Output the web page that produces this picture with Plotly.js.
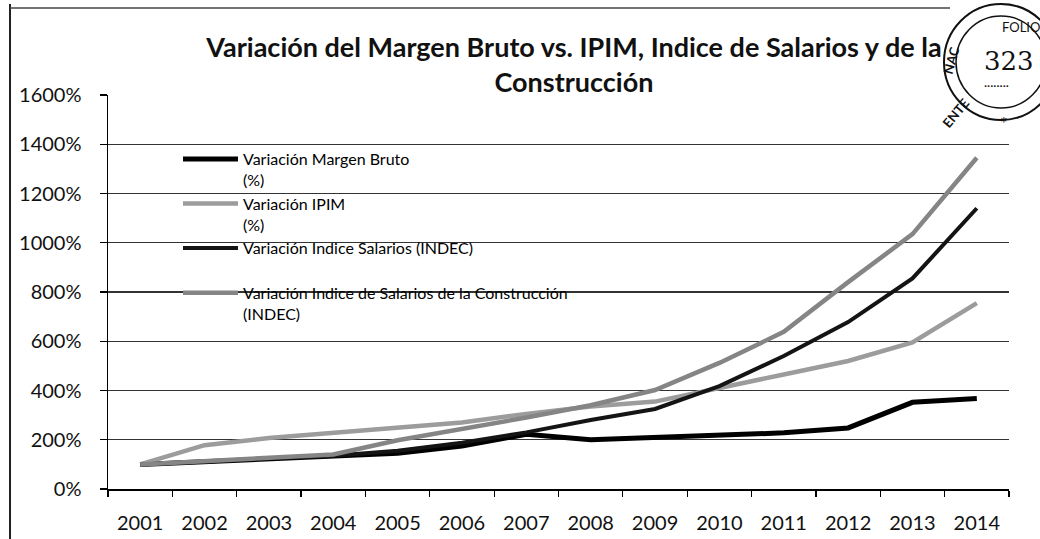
<!DOCTYPE html>
<html>
<head>
<meta charset="utf-8">
<script src="https://cdn.plot.ly/plotly-3.0.1.min.js"></script>
<style>html,body{margin:0;padding:0;background:#fff;}#chart{width:1040px;height:539px;}</style>
</head>
<body>
<div id="chart"></div>
<script>
const years = ['2001','2002','2003','2004','2005','2006','2007','2008','2009','2010','2011','2012','2013','2014'];
const margenBruto = [100, 110, 122, 132, 145, 175, 222, 200, 208, 220, 228, 248, 352, 368];
const ipim = [100, 178, 207, 228, 245, 270, 305, 335, 355, 412, 465, 520, 595, 755];
const indiceSalarios = [100, 112, 125, 135, 155, 188, 230, 280, 325, 418, 540, 678, 855, 1140];
const salariosConstruccion = [100, 112, 125, 140, 198, 242, 290, 340, 402, 512, 638, 840, 1035, 1345];
const seriesNames = [
  'Variación Margen Bruto<br>(%)',
  'Variación IPIM<br>(%)',
  'Variación Indice Salarios (INDEC)<br> ',
  'Variación Indice de Salarios de la Construcción<br>(INDEC)'
];
const titleText = 'Variación del Margen Bruto vs. IPIM, Indice de Salarios y de la<br>Construcción';

const FONT = 'Lato, "Open Sans", sans-serif';

const traces = [
  {x: years, y: margenBruto, name: seriesNames[0], line: {color: '#000000', width: 5}},
  {x: years, y: ipim, name: seriesNames[1], line: {color: '#9c9c9c', width: 4.5}},
  {x: years, y: indiceSalarios, name: seriesNames[2], line: {color: '#141414', width: 4}},
  {x: years, y: salariosConstruccion, name: seriesNames[3], line: {color: '#858585', width: 4.5}}
].map((t, i) => Object.assign({type: 'scatter', mode: 'lines', legendgroup: 'g' + i, hoverinfo: 'skip'}, t));

// paper coords helpers for decorative scan elements (plot area 108..1009 x, 95..489 y)
const px = v => (v - 108) / 901;
const py = v => (489 - v) / 394;

const layout = {
  width: 1040, height: 539,
  margin: {l: 108, r: 31, t: 95, b: 50},
  paper_bgcolor: '#ffffff', plot_bgcolor: '#ffffff',
  font: {family: FONT, color: '#111111'},
  title: {
    text: titleText,
    font: {family: FONT, size: 27, color: '#111111', weight: 'bold'},
    xref: 'paper', x: px(574), xanchor: 'center',
    yref: 'container', y: 1 - 57/539, yanchor: 'top'
  },
  showlegend: true,
  legend: {
    x: px(178), xanchor: 'left', y: py(142), yanchor: 'top',
    bgcolor: 'rgba(0,0,0,0)', borderwidth: 0,
    font: {family: FONT, size: 16, color: '#000000'},
    itemwidth: 55, valign: 'top', tracegroupgap: 4, traceorder: 'normal'
  },
  xaxis: {
    type: 'category', categoryorder: 'array', categoryarray: years,
    range: [-0.5, 13.5],
    tickson: 'boundaries', ticks: 'outside', ticklen: 6, tickcolor: '#000', tickwidth: 1.2,
    showline: true, linecolor: '#000', linewidth: 1.5, showgrid: false, zeroline: false,
    tickfont: {family: FONT, size: 20, color: '#111111'}, ticklabelstandoff: 15,
    fixedrange: true
  },
  yaxis: {
    range: [0, 1600], dtick: 200, ticksuffix: '%',
    ticks: 'outside', ticklen: 7, tickcolor: '#000', tickwidth: 1.2,
    showline: true, linecolor: '#000', linewidth: 1.5,
    showgrid: true, gridcolor: '#333333', gridwidth: 1.3, zeroline: false,
    tickfont: {family: FONT, size: 20, color: '#111111'}, ticklabelstandoff: 14,
    fixedrange: true
  },
  shapes: [
    // scan frame
    {type: 'line', xref: 'paper', yref: 'paper', x0: px(10), x1: px(10), y0: py(4), y1: py(539), line: {color: '#222', width: 2}},
    {type: 'line', xref: 'paper', yref: 'paper', x0: px(10), x1: px(950), y0: py(8), y1: py(8), line: {color: '#444', width: 1.5}},
    // stamp
    {type: 'circle', xref: 'paper', yref: 'paper', x0: px(944), x1: px(1058), y0: py(120), y1: py(4), line: {color: '#111', width: 2}, fillcolor: 'rgba(255,255,255,1)'},
    {type: 'circle', xref: 'paper', yref: 'paper', x0: px(956), x1: px(1046), y0: py(108), y1: py(16), line: {color: '#111', width: 1.5}}
  ],
  annotations: [
    {xref: 'paper', yref: 'paper', x: px(1000), y: py(17), text: 'FOLIO', showarrow: false, font: {family: FONT, size: 13, color: '#111'}, xanchor: 'left'},
    {xref: 'paper', yref: 'paper', x: px(982), y: py(44), text: '323', showarrow: false, font: {family: 'DejaVu Serif, serif', size: 26, color: '#111'}, xanchor: 'left'},
    {xref: 'paper', yref: 'paper', x: px(982), y: py(76), text: '········', showarrow: false, font: {family: FONT, size: 12, color: '#111'}, xanchor: 'left'},
    {xref: 'paper', yref: 'paper', x: px(1010), y: py(110), text: '*', showarrow: false, font: {family: FONT, size: 18, color: '#111'}},
    {xref: 'paper', yref: 'paper', x: px(965), y: py(42), text: 'NAC', textangle: -75, showarrow: false, font: {family: FONT, size: 13, color: '#111', weight: 'bold'}},
    {xref: 'paper', yref: 'paper', x: px(975), y: py(92), text: 'ENTE', textangle: -50, showarrow: false, font: {family: FONT, size: 13, color: '#111', weight: 'bold'}}
  ]
};

Plotly.newPlot('chart', traces, layout, {staticPlot: true, displayModeBar: false});
</script>
</body>
</html>
